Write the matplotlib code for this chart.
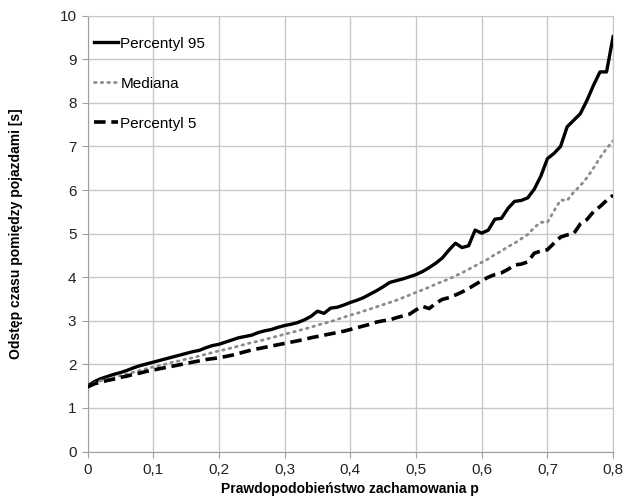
import numpy as np
import matplotlib
matplotlib.use("Agg")
import matplotlib.pyplot as plt
from matplotlib.ticker import FuncFormatter, MultipleLocator

plt.rcParams['font.family'] = ['Liberation Sans', 'DejaVu Sans']

p = np.round(np.arange(0, 0.801, 0.01), 2)

percentyl_95 = [1.50, 1.60, 1.67, 1.72, 1.77, 1.81, 1.86, 1.92, 1.97, 2.01,
                2.05, 2.09, 2.13, 2.17, 2.21, 2.25, 2.29, 2.32, 2.38, 2.43,
                2.46, 2.51, 2.56, 2.61, 2.64, 2.67, 2.73, 2.77, 2.80, 2.85,
                2.89, 2.92, 2.96, 3.02, 3.10, 3.22, 3.17, 3.29, 3.31, 3.36,
                3.42, 3.47, 3.53, 3.61, 3.69, 3.78, 3.88, 3.92, 3.96, 4.01,
                4.06, 4.13, 4.22, 4.32, 4.44, 4.62, 4.78, 4.68, 4.72, 5.08,
                5.01, 5.08, 5.33, 5.35, 5.58, 5.74, 5.76, 5.82, 6.02, 6.32,
                6.72, 6.84, 7.00, 7.45, 7.60, 7.75, 8.05, 8.40, 8.71, 8.71,
                9.52]

mediana = [1.50, 1.57, 1.62, 1.66, 1.70, 1.74, 1.78, 1.82, 1.86, 1.90,
           1.94, 1.97, 2.01, 2.05, 2.08, 2.12, 2.15, 2.19, 2.23, 2.27,
           2.31, 2.34, 2.38, 2.42, 2.46, 2.50, 2.53, 2.57, 2.61, 2.65,
           2.69, 2.73, 2.77, 2.81, 2.85, 2.90, 2.94, 2.98, 3.03, 3.08,
           3.13, 3.17, 3.22, 3.27, 3.32, 3.37, 3.42, 3.47, 3.53, 3.59,
           3.65, 3.71, 3.77, 3.84, 3.90, 3.96, 4.03, 4.10, 4.18, 4.26,
           4.34, 4.42, 4.52, 4.60, 4.70, 4.78, 4.88, 4.98, 5.14, 5.26,
           5.26, 5.52, 5.77, 5.76, 5.95, 6.10, 6.28, 6.50, 6.74, 6.95,
           7.13]

percentyl_5 = [1.48, 1.55, 1.59, 1.63, 1.66, 1.70, 1.73, 1.77, 1.80, 1.84,
               1.87, 1.90, 1.93, 1.96, 1.99, 2.02, 2.05, 2.08, 2.11, 2.13,
               2.15, 2.18, 2.21, 2.25, 2.29, 2.33, 2.36, 2.39, 2.42, 2.45,
               2.48, 2.51, 2.54, 2.57, 2.61, 2.64, 2.67, 2.70, 2.73, 2.76,
               2.80, 2.84, 2.88, 2.92, 2.97, 3.00, 3.02, 3.07, 3.11, 3.15,
               3.25, 3.33, 3.28, 3.40, 3.49, 3.53, 3.59, 3.66, 3.74, 3.83,
               3.92, 4.00, 4.06, 4.10, 4.18, 4.28, 4.30, 4.35, 4.55, 4.60,
               4.63, 4.78, 4.92, 4.97, 5.00, 5.22, 5.32, 5.50, 5.62, 5.76,
               5.88]

labels = ["Percentyl 95", "Mediana", "Percentyl 5"]
x_label = "Prawdopodobieństwo zachamowania p"
y_label = "Odstęp czasu pomiędzy pojazdami [s]"

fig = plt.figure(figsize=(6.25, 5), dpi=100)
ax = fig.add_axes([0.14, 0.097, 0.841, 0.8716])

grid_c = "#c8c8c8"
ax.plot(p, percentyl_95, color="black", lw=2.4, label=labels[0],
        solid_joinstyle="round", zorder=3)
ax.plot(p, mediana, color="#8c8c8c", lw=2.0, linestyle=(0, (0.6, 1.8)),
        dash_capstyle="round", label=labels[1], zorder=3)
ax.plot(p, percentyl_5, color="black", lw=2.6, linestyle=(0, (3.2, 1.6)),
        label=labels[2], zorder=3)

ax.set_xlim(0, 0.8)
ax.set_ylim(0, 10)
ax.xaxis.set_major_locator(MultipleLocator(0.1))
ax.yaxis.set_major_locator(MultipleLocator(1))
ax.xaxis.set_major_formatter(FuncFormatter(lambda v, pos: ("%g" % round(v, 2)).replace(".", ",")))
ax.grid(True, color=grid_c, lw=1.0)
ax.set_axisbelow(True)
for s in ["top", "right"]:
    ax.spines[s].set_color(grid_c)
for s in ["left", "bottom"]:
    ax.spines[s].set_color("#a0a0a0")
ax.tick_params(axis="both", which="major", length=4, color="#a0a0a0",
               labelsize=11, labelcolor="#222222", pad=4)

ax.set_xlabel(x_label, fontsize=10, fontweight="bold", labelpad=4)
ax.set_ylabel(y_label, fontsize=10, fontweight="bold", labelpad=26)

leg = ax.legend(loc="upper left", frameon=False, fontsize=11,
                handlelength=1.6, handletextpad=0.15, labelspacing=1.7,
                borderaxespad=0.0, bbox_to_anchor=(0.0, 0.966))

fig.savefig("out.png", dpi=100)
